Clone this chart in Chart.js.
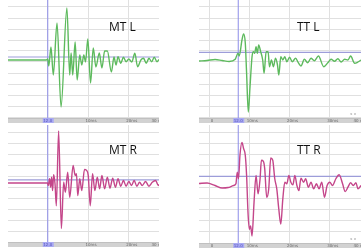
<!DOCTYPE html>
<html>
<head>
<meta charset="utf-8">
<script src="https://cdn.jsdelivr.net/npm/chart.js@4.4.0/dist/chart.umd.min.js"></script>
<style>
  html, body { margin: 0; padding: 0; background: #fff; }
  body { width: 363px; height: 250px; position: relative; overflow: hidden; }
  canvas { position: absolute; }
  .lbl { position: absolute; font: 12px "Open Sans", sans-serif; line-height: 12px; color: #111; white-space: nowrap; }
</style>
</head>
<body>
<canvas id="mtl" width="151" height="123" style="left:8px;top:0px"></canvas>
<canvas id="ttl" width="162" height="123" style="left:199px;top:0px"></canvas>
<canvas id="mtr" width="151" height="122" style="left:8px;top:125px"></canvas>
<canvas id="ttr" width="162" height="123" style="left:199px;top:125px"></canvas>
<div class="lbl" style="left:109px;top:21px">MT L</div>
<div class="lbl" style="left:297px;top:21px">TT L</div>
<div class="lbl" style="left:109px;top:144px">MT R</div>
<div class="lbl" style="left:297px;top:144px">TT R</div>
<script>
// ===== DADOS (tempo em amostras, amplitude relativa à linha de base) =====
const mtlTime = [0, 38, 39.5, 40.5, 42.7, 45, 48.7, 52.7, 58.5, 61.3, 62.7, 64.3, 66.7, 68.7, 71.3, 73.3, 75.3, 77,
  79.3, 82, 84.7, 87.3, 90.7, 93.3, 96, 98.7, 102.7, 105.3, 107.3, 109.3, 112, 114.7, 117.3, 120, 123, 126,
  128.7, 132, 134.7, 137.3, 140, 142.7, 145.3, 148, 150];
const mtlAmp = [0, 0, 1, -6, 13, -15, 37, -47, 52, -15, 7, -15, 18, -20, 5, -5, 5, -2,
  21, -23, 12, -7, 7, -8, 9, 9, -12, 3, -5, 3.3, -3.3, 2.7, -1.7, 1, -2, 6.7,
  -6.7, 0, 1.7, -3.3, 1.7, -1.7, 2.7, -1.7, 0.5];

const ttlTime = [0, 8, 16, 23, 30, 36, 38.7, 40, 42.7, 44.3, 46, 47.3, 49, 50.7, 52.7, 54, 55.3, 56.7, 58,
  59.3, 61.3, 63.3, 64.7, 66.7, 68.7, 70, 72, 74, 76, 78, 79.3, 81.3, 83.3, 85.3, 87.3, 90, 92.7, 96,
  98.7, 101.3, 104.7, 108, 111.3, 114.7, 118.7, 124, 128, 131.3, 134.7, 138, 141.3, 144.7, 148, 150.7,
  154.7, 158, 161];
const ttlAmp = [0, 0.5, 1.5, 0.5, -0.5, 1.7, 7.7, 5, 21, 27, 18, -12, -51, -25.7, 4.3, 9.3, 7.7, 14.3, 7.7,
  16, 9.3, 1, -12.3, 9.3, 9.3, -5.7, 1, -5.7, 2.7, -4, -14, 4.3, 1, 4.3, -0.7, 3.7, -0.7, 2.7,
  -1.7, -5, 1.7, -1.7, 2.7, 0.3, 5, -5.7, -1.7, 1.7, -0.3, 2.3, -1, 1.7, 1, 5,
  -2.3, -1, 1];

const mtrTime = [0, 39.3, 40, 41.3, 42.3, 43.3, 44.3, 45.3, 46.7, 48, 50.3, 53, 55.3, 57, 59.3, 61.3, 64.7,
  66.7, 68, 69.3, 71.3, 73.3, 76, 78, 79.7, 81.7, 84, 86.3, 88.7, 91, 93.3, 96, 98.7, 101.3, 104, 106.7,
  109.3, 112, 114.7, 117.3, 120, 122.7, 125.3, 128, 130.7, 133.3, 136.7, 140, 143.3, 146.7, 149.3, 150];
const mtrAmp = [0, 0, -2.5, 4.2, -4.2, 5.8, -7.5, 8.2, -0.8, -22.5, 51.5, -45.2, 0.8, -9.2, 10.8, -14.2, 17.5,
  7.5, 9.2, -12.5, 4.2, -7.5, 13.5, 12.5, 7.5, -22.5, 9.2, -7.5, 5.8, -5.8, 7.5, -5.8, 5.8, -5.2, 4.8, -4.2,
  4.2, -3.2, 2.5, -3.2, 1.5, -2.5, 2.5, -3.2, 0.8, -2.5, 1.5, -3.2, 0.8, 2.5, -2.5, -1.5];

const ttrTime = [0, 8, 16, 23, 29, 34.3, 36.7, 38, 39.3, 40.7, 42.7, 44.3, 46, 47.3, 48.7, 50, 51.3, 52.7,
  54.7, 56.7, 58.7, 60.7, 62, 64, 65.3, 67.3, 69.3, 71.3, 73.3, 75.3, 77.3, 79.3, 81.3, 83.3, 85.3, 87.3,
  89.3, 91.3, 93.3, 95.3, 97.3, 99.3, 101.3, 104, 106, 108.7, 111.3, 114, 116.7, 119.3, 122, 124.7, 127.3,
  130, 132.7, 136, 139.3, 142.7, 145.3, 148, 150.7, 153.3, 156, 158, 161];
const ttrAmp = [0, 0.5, -2, -4.5, -4, -2, -0.3, 11.3, 4.7, 28, 40.7, 34.7, 28, 8, -28.7, -45.3, -42, -52,
  -18.7, 8, -10.3, 4.7, 23, 22, 14.7, -13.7, -5.3, 25.3, 23, 4.7, -5.3, -25.3, -40.3, -15.3, 1.3, -0.3,
  8, 1.3, -1.3, 8, -2, -7, 5.3, 1.3, 4.7, -3.7, 1.3, -5.3, -0.3, -5.3, 1.3, -13.7, -2,
  1.3, -2, 4.7, 8.7, -0.3, -8, -3.7, 0.7, -2, 0.7, -5.3, -2];

// rótulos do eixo de tempo
const mtTickTimes = [79.5, 120, 150];
const mtTickLabels = ['10ms', '20ms', '30 n'];
const ttTickTimes = [10, 50, 90, 130, 161];
const ttTickLabels = ['0', '10ms', '20ms', '30ms', '40 n'];

// ===== PLUGIN DA FAIXA DO EIXO =====
const stripPlugin = {
  id: 'strip',
  afterDraw(chart, args, opts) {
    const ctx = chart.ctx;
    const area = chart.chartArea;
    const xs = chart.scales.x;
    ctx.save();
    ctx.fillStyle = '#d2d2d2';
    ctx.fillRect(area.left, area.bottom, area.right - area.left, 5);
    ctx.fillStyle = '#c0c0c0';
    ctx.fillRect(area.left, area.bottom, area.right - area.left, 1);
    ctx.font = '4px "DejaVu Sans"';
    ctx.fillStyle = '#666';
    ctx.textBaseline = 'middle';
    ctx.textAlign = 'center';
    opts.times.forEach((t, i) => {
      ctx.fillText(opts.labels[i], Math.min(xs.getPixelForValue(t) + 3, area.right - 3), area.bottom + 3);
    });
    // caixa azul do cursor
    const cx = xs.getPixelForValue(opts.cursor);
    ctx.fillStyle = '#a9a9f2';
    ctx.fillRect(cx - 5, area.bottom, 11, 5);
    ctx.fillStyle = '#5555bb';
    ctx.fillText('12.0', cx, area.bottom + 3);
    if (opts.arrows) {
      ctx.fillStyle = '#777';
      ctx.fillText('« »', area.right - 8, area.bottom - 4);
    }
    ctx.restore();
  }
};

function makePanel(id, times, amps, color, cursor, hline, xMax, yMin, yMax, xGrid, tickTimes, tickLabels, arrows) {
  const wave = times.map((t, i) => ({ x: t, y: amps[i] }));
  const yGrid = [];
  for (let v = yMax - 7; v > yMin; v -= 11) yGrid.push(v);
  const gridOpts = { color: '#e0e0e0', lineWidth: 1, drawTicks: false };
  new Chart(document.getElementById(id), {
    type: 'line',
    data: {
      datasets: [
        { data: wave, borderColor: color, borderWidth: 1.4, pointRadius: 0, cubicInterpolationMode: 'monotone', order: 0 },
        { data: [{ x: cursor, y: yMin }, { x: cursor, y: yMax }], borderColor: '#8c8ce8', borderWidth: 1, pointRadius: 0, order: 1 },
        { data: [{ x: 0, y: hline }, { x: xMax, y: hline }], borderColor: '#9d9dd9', borderWidth: 1.2, pointRadius: 0, order: 2 }
      ]
    },
    options: {
      responsive: false,
      animation: false,
      layout: { padding: { left: 0, right: 0, top: 0, bottom: 5 } },
      plugins: {
        legend: { display: false },
        tooltip: { enabled: false },
        strip: { times: tickTimes, labels: tickLabels, cursor: cursor, arrows: arrows }
      },
      scales: {
        x: {
          type: 'linear', min: 0, max: xMax,
          ticks: { display: false }, grid: gridOpts, border: { display: false },
          afterBuildTicks: s => { s.ticks = xGrid.map(v => ({ value: v })); }
        },
        y: {
          type: 'linear', min: yMin, max: yMax,
          ticks: { display: false }, grid: gridOpts, border: { display: false },
          afterBuildTicks: s => { s.ticks = yGrid.map(v => ({ value: v })); }
        }
      }
    },
    plugins: [stripPlugin]
  });
}

document.addEventListener('DOMContentLoaded', function() {
  makePanel('mtl', mtlTime, mtlAmp, '#5dba5d', 39.5, 3, 150, -58, 60, [39.5, 79.5, 120, 150], mtTickTimes, mtTickLabels, false);
  makePanel('ttl', ttlTime, ttlAmp, '#5dba5d', 39, 8.7, 161, -57, 61, [10, 50, 90, 130, 161], ttTickTimes, ttTickLabels, true);
  makePanel('mtr', mtrTime, mtrAmp, '#c4468a', 39.5, 3, 150, -58.5, 57.5, [39.5, 79.5, 120, 150], mtTickTimes, mtTickLabels, false);
  makePanel('ttr', ttrTime, ttrAmp, '#c4468a', 39, 7, 161, -59, 58, [10, 50, 90, 130, 161], ttTickTimes, ttTickLabels, true);
});
</script>
</body>
</html>
